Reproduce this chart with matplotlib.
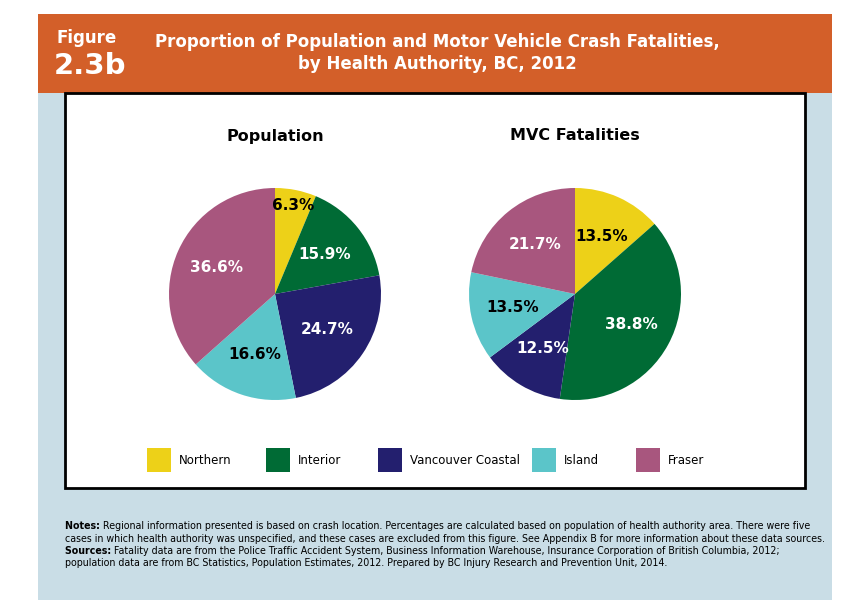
import numpy as np
import matplotlib.pyplot as plt
from matplotlib.patches import Rectangle

W, H = 861, 602

regions = ["Northern", "Interior", "Vancouver Coastal", "Island", "Fraser"]
population = [6.3, 15.9, 24.7, 16.6, 36.6]
fatalities = [13.5, 38.8, 12.5, 13.5, 21.7]
colors = ["#EDD118", "#006B35", "#231F6E", "#5BC5C9", "#A8567E"]
label_colors = ["black", "white", "white", "black", "white"]

fig = plt.figure(figsize=(W / 100, H / 100), dpi=100)


def px(x, y, w, h):
    return [x / W, 1 - (y + h) / H, w / W, h / H]


def add_rect(x, y, w, h, **kw):
    fig.patches.append(Rectangle((x / W, 1 - (y + h) / H), w / W, h / H,
                                 transform=fig.transFigure, **kw))


# background panels
add_rect(38, 92, 794, 508, facecolor="#C9DDE6", edgecolor="none", zorder=0)
add_rect(38, 14, 794, 79, facecolor="#D35F29", edgecolor="none", zorder=1)
add_rect(65, 93, 740, 395, facecolor="white", edgecolor="black", linewidth=2, zorder=1)

fig.text(56 / W, 1 - 38 / H, "Figure", color="white", fontsize=12,
         fontweight="bold", va="center")
fig.text(54 / W, 1 - 66 / H, "2.3b", color="white", fontsize=21,
         fontweight="bold", va="center")
fig.text(437 / W, 1 - 53 / H,
         "Proportion of Population and Motor Vehicle Crash Fatalities,\nby Health Authority, BC, 2012",
         color="white", fontsize=12, fontweight="bold", ha="center", va="center",
         linespacing=1.3)


def draw_pie(cx, title, values):
    ax = fig.add_axes(px(cx - 106, 188, 212, 212))
    ax.set_zorder(5)
    ax.patch.set_visible(False)
    wedges, texts = ax.pie(values, colors=colors, startangle=90, counterclock=False,
                           wedgeprops=dict(linewidth=0))
    for w, v, c in zip(wedges, values, label_colors):
        ang = np.deg2rad((w.theta1 + w.theta2) / 2)
        r = 0.6 if v > 10 else 0.85
        ax.text(r * np.cos(ang), r * np.sin(ang), f"{v}%", ha="center", va="center",
                color=c, fontsize=11, fontweight="bold")
    ax.set_xlim(-1, 1)
    ax.set_ylim(-1, 1)
    ax.set_aspect("equal")
    fig.text(cx / W, 1 - 136 / H, title, ha="center", va="center",
             fontsize=11.5, fontweight="bold")


draw_pie(275, "Population", population)
draw_pie(575, "MVC Fatalities", fatalities)

# legend
lx = [147, 266, 378, 532, 636]
for x, name, c in zip(lx, regions, colors):
    add_rect(x, 448, 24, 24, facecolor=c, edgecolor="none", zorder=2)
    fig.text((x + 32) / W, 1 - 460 / H, name, fontsize=8.5, va="center")

notes = [
    [("Notes: ", True), ("Regional information presented is based on crash location. Percentages are calculated based on population of health authority area. There were five", False)],
    [("cases in which health authority was unspecified, and these cases are excluded from this figure. See Appendix B for more information about these data sources.", False)],
    [("Sources: ", True), ("Fatality data are from the Police Traffic Accident System, Business Information Warehouse, Insurance Corporation of British Columbia, 2012;", False)],
    [("population data are from BC Statistics, Population Estimates, 2012. Prepared by BC Injury Research and Prevention Unit, 2014.", False)],
]
fig.canvas.draw()
r = fig.canvas.get_renderer()
for i, line in enumerate(notes):
    x = 65 / W
    y = 1 - (526 + i * 12.5) / H
    for s, b in line:
        t = fig.text(x, y, s, fontsize=6.85, fontweight="bold" if b else "normal", va="center")
        bb = t.get_window_extent(renderer=r)
        x += bb.width / W

fig.savefig("out.png", dpi=100)
